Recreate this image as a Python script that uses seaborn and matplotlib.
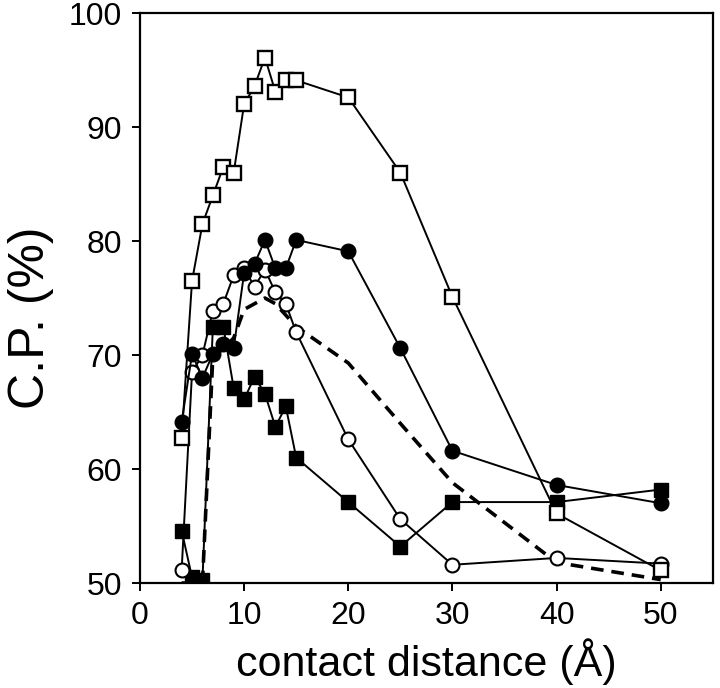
import matplotlib
matplotlib.use("Agg")
import matplotlib.pyplot as plt
import seaborn as sns
import numpy as np

sns.set_theme(style="ticks")
plt.rcParams['font.family'] = ['Liberation Sans', 'DejaVu Sans']

dist = [4, 5, 6, 7, 8, 9, 10, 11, 12, 13, 14, 15, 20, 25, 30, 40, 50]
open_sq = [62.7, 76.5, 81.5, 84.0, 86.5, 86.0, 92.0, 93.6, 96.1, 93.1, 94.1, 94.1, 92.6, 86.0, 75.1, 56.1, 51.1]
filled_circ = [64.1, 70.1, 68.0, 70.1, 71.0, 70.6, 77.2, 78.0, 80.1, 77.6, 77.6, 80.1, 79.1, 70.6, 61.6, 58.6, 57.0]
open_circ = [51.1, 68.5, 70.0, 73.9, 74.5, 77.0, 77.6, 76.0, 77.5, 75.5, 74.5, 72.0, 62.6, 55.6, 51.6, 52.2, 51.7]
filled_sq = [54.6, 50.5, 50.3, 72.5, 72.5, 67.1, 66.1, 68.1, 66.6, 63.7, 65.5, 61.0, 57.1, 53.2, 57.1, 57.1, 58.2]
dashed = [50.0, 50.0, 50.0, 70.0, 70.5, 71.5, 74.0, 74.5, 75.0, 74.5, 73.5, 72.5, 69.3, 64.0, 58.8, 51.8, 50.3]

xticks = [0, 10, 20, 30, 40, 50]
yticks = [50, 60, 70, 80, 90, 100]

fig = plt.figure(figsize=(7.2, 6.88), dpi=100)
ax = fig.add_axes([0.1944, 0.1526, 0.7956, 0.8284])

lw = 1.4
sns.lineplot(x=dist, y=dashed, ax=ax, color='black', lw=2.6, linestyle=(0, (3.5, 2.2)), zorder=2)
sns.lineplot(x=dist, y=filled_sq, ax=ax, color='black', lw=lw, marker='s', markersize=10.5,
             markerfacecolor='black', markeredgecolor='black', markeredgewidth=1, zorder=3)
sns.lineplot(x=dist, y=open_circ, ax=ax, color='black', lw=lw, marker='o', markersize=10,
             markerfacecolor='white', markeredgecolor='black', markeredgewidth=1.5, zorder=4)
sns.lineplot(x=dist, y=filled_circ, ax=ax, color='black', lw=lw, marker='o', markersize=10.5,
             markerfacecolor='black', markeredgecolor='black', markeredgewidth=1, zorder=5)
sns.lineplot(x=dist, y=open_sq, ax=ax, color='black', lw=lw, marker='s', markersize=10,
             markerfacecolor='white', markeredgecolor='black', markeredgewidth=1.7, zorder=6)

ax.set_xlim(0, 55)
ax.set_ylim(50, 100)
ax.set_xticks(xticks)
ax.set_yticks(yticks)
ax.tick_params(axis='both', direction='out', length=6, width=1.4, labelsize=23, colors='black', pad=7)
for s in ax.spines.values():
    s.set_visible(True)
    s.set_linewidth(1.6)
    s.set_color('black')
ax.set_xlabel("contact distance (Å)", fontsize=31, labelpad=5, color='black')
ax.set_ylabel("C.P. (%)", fontsize=36, color='black')
ax.yaxis.set_label_coords(-0.15, 0.465)

fig.savefig("out.png", dpi=100)
